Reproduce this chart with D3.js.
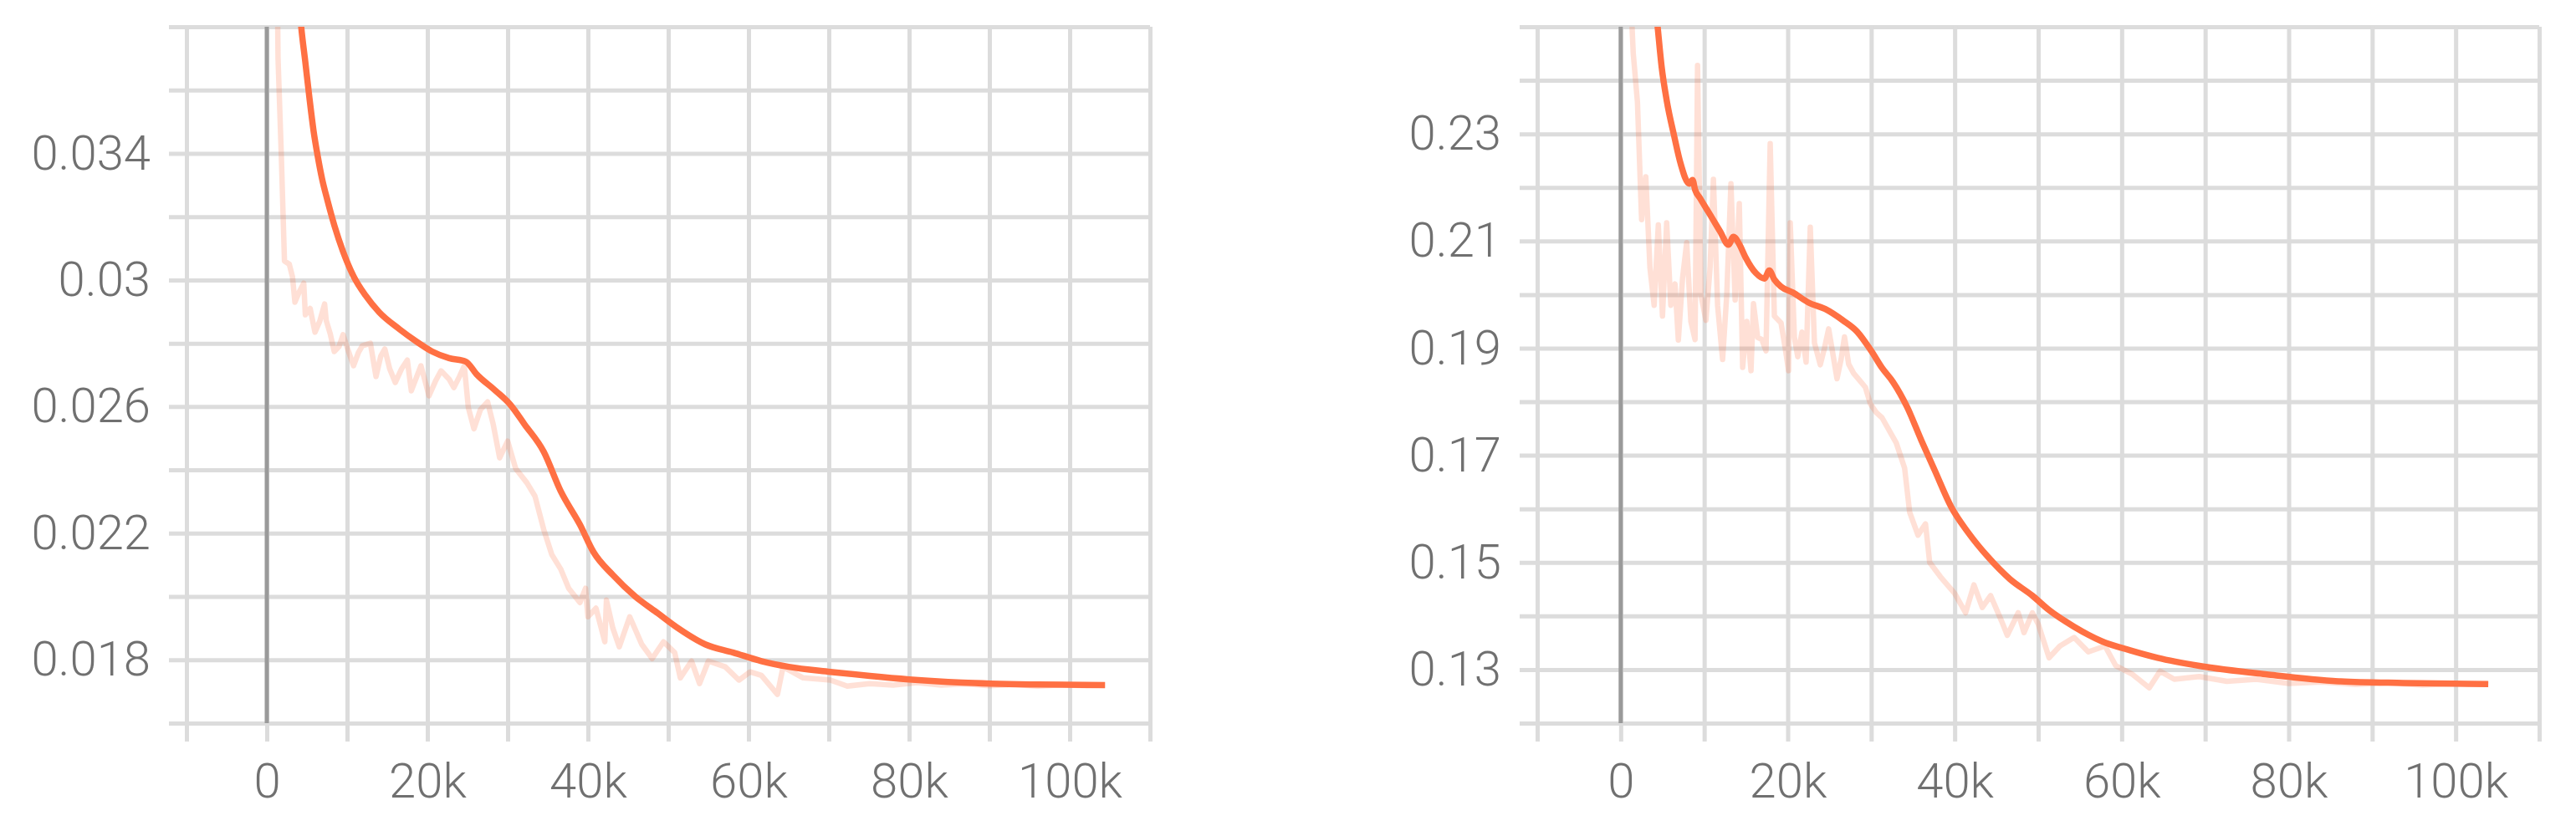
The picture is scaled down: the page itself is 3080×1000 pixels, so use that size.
<!DOCTYPE html>
<html>
<head>
<meta charset="utf-8">
<script src="https://cdnjs.cloudflare.com/ajax/libs/d3/7.8.5/d3.min.js"></script>
<style>
  html, body { margin: 0; background: #fff; }
  svg { display: block; }
  .tick text { font-family: Roboto, "Open Sans", sans-serif; font-weight: 300; font-size: 58px; fill: #707070; }
</style>
</head>
<body>
<div id="chart"></div>
<script>
const width = 3080;
const height = 1000;

// shared x ticks (steps)
const xGrid = [-10000, 0, 10000, 20000, 30000, 40000, 50000, 60000, 70000, 80000, 90000, 100000, 110000];
const xLabels = [0, 20000, 40000, 60000, 80000, 100000];

// left chart
const leftGrid = [0.016, 0.018, 0.02, 0.022, 0.024, 0.026, 0.028, 0.03, 0.032, 0.034, 0.036, 0.038];
const leftLabels = [0.018, 0.022, 0.026, 0.03, 0.034];

const leftRaw = [
  [900, 0.05], [1400, 0.037], [1800, 0.034], [2200, 0.0306], [2800, 0.0305], [3200, 0.0301],
  [3500, 0.0293], [4000, 0.0296], [4600, 0.0299], [4800, 0.0289], [5400, 0.0291], [6000, 0.02835],
  [6600, 0.0287], [7200, 0.02924], [7400, 0.02872], [7900, 0.0283], [8400, 0.02774], [9000, 0.0279],
  [9500, 0.02827], [10100, 0.0278], [10800, 0.02729], [11400, 0.0277], [11900, 0.02792], [12900, 0.028],
  [13600, 0.02695], [14200, 0.0276], [14700, 0.02782], [15300, 0.0272], [16000, 0.02676], [16800, 0.0272],
  [17500, 0.02747], [18000, 0.0265], [18600, 0.0269], [19200, 0.02729], [20200, 0.02634], [21000, 0.0268],
  [21700, 0.02713], [22700, 0.02687], [23300, 0.0266], [24000, 0.02695], [24600, 0.02729], [25100, 0.02597],
  [25800, 0.0253], [26600, 0.0259], [27500, 0.02615], [28200, 0.02544], [29000, 0.02438], [30000, 0.02491],
  [31000, 0.02404], [32400, 0.02359], [33400, 0.02317], [34500, 0.02211], [35500, 0.02132], [36600, 0.02087],
  [37600, 0.02026], [39000, 0.01981], [39700, 0.02026], [40000, 0.01936], [41000, 0.01963], [42100, 0.01857],
  [42300, 0.01989], [43100, 0.019], [43900, 0.01841], [45200, 0.01936], [46700, 0.01849], [48000, 0.01804],
  [49400, 0.01857], [50800, 0.01823], [51500, 0.01743], [52900, 0.01796], [53900, 0.01725], [55000, 0.01796],
  [57100, 0.01778], [58800, 0.01736], [60200, 0.01762], [61600, 0.01751], [63600, 0.01691], [64300, 0.01778],
  [66800, 0.01743], [70200, 0.01736], [72300, 0.01717], [75100, 0.01725], [78000, 0.0172], [81000, 0.01728],
  [84000, 0.0172], [87000, 0.01724], [90000, 0.01718], [93000, 0.01722], [96000, 0.01717], [99000, 0.01721],
  [102000, 0.01718], [104400, 0.0172]
];

const leftSmooth = [
  [3900, 0.0392], [4270, 0.03804], [4790, 0.0369], [5310, 0.03575], [5830, 0.0347], [6350, 0.0339],
  [6880, 0.0332], [7570, 0.0325], [8440, 0.0317], [9480, 0.03091], [10800, 0.03012], [12300, 0.02951],
  [14000, 0.02898], [16500, 0.02845], [18500, 0.02808], [20600, 0.02774], [22700, 0.02753], [24800, 0.02742],
  [26100, 0.02703], [28500, 0.0265], [30300, 0.02607], [32100, 0.02544], [34500, 0.02457], [36600, 0.02333],
  [39000, 0.02227], [40700, 0.0214], [43100, 0.02068], [45900, 0.02], [48700, 0.01947], [51100, 0.01902],
  [54600, 0.01849], [58100, 0.01823], [61600, 0.01796], [65000, 0.01778], [70200, 0.01762], [75100, 0.01749],
  [80000, 0.01738], [86600, 0.01728], [96000, 0.01722], [104400, 0.0172]
];

// right chart
const rightGrid = [0.12, 0.13, 0.14, 0.15, 0.16, 0.17, 0.18, 0.19, 0.2, 0.21, 0.22, 0.23, 0.24, 0.25];
const rightLabels = [0.13, 0.15, 0.17, 0.19, 0.21, 0.23];

const rightRaw = [
  [1000, 0.262], [1500, 0.245], [2000, 0.236], [2500, 0.214], [3000, 0.222], [3500, 0.205],
  [4000, 0.198], [4500, 0.213], [5000, 0.196], [5500, 0.2134], [6000, 0.198], [6500, 0.202],
  [6900, 0.1915], [7400, 0.203], [7900, 0.2097], [8400, 0.195], [8900, 0.1916], [9200, 0.2428],
  [9600, 0.2], [10200, 0.1952], [10700, 0.205], [11100, 0.2215], [11600, 0.198], [12200, 0.1879],
  [12700, 0.2], [13200, 0.2207], [13700, 0.199], [14200, 0.217], [14600, 0.1864], [15100, 0.195],
  [15600, 0.1858], [15900, 0.1983], [16400, 0.192], [16900, 0.1916], [17400, 0.1895], [17900, 0.2282],
  [18400, 0.196], [19200, 0.1947], [19700, 0.19], [20100, 0.1858], [20300, 0.2134], [20800, 0.192],
  [21200, 0.1884], [21700, 0.193], [22200, 0.1874], [22700, 0.2126], [23200, 0.191], [23900, 0.1869],
  [24400, 0.19], [24900, 0.1936], [25400, 0.189], [25900, 0.1843], [26400, 0.188], [26800, 0.1921],
  [27300, 0.187], [27900, 0.1853], [28600, 0.184], [29300, 0.1827], [29900, 0.1796], [30600, 0.178],
  [31300, 0.177], [33000, 0.1723], [34000, 0.1676], [34600, 0.1594], [35600, 0.1551], [36500, 0.1572],
  [37000, 0.15], [38300, 0.1473], [40000, 0.1442], [41300, 0.1406], [42300, 0.1458], [43300, 0.1416],
  [44300, 0.1438], [45600, 0.1391], [46300, 0.1364], [47600, 0.1406], [48300, 0.1369], [49300, 0.1406],
  [50000, 0.1385], [51300, 0.1322], [52600, 0.1344], [54300, 0.136], [56000, 0.1333], [58000, 0.1344],
  [59300, 0.1307], [61300, 0.1291], [63300, 0.1266], [64600, 0.1297], [66300, 0.1282], [69300, 0.1287],
  [72600, 0.1278], [76100, 0.1282], [80000, 0.1274], [84000, 0.1277], [88000, 0.1272], [92000, 0.1275],
  [96000, 0.1271], [100000, 0.1274], [103900, 0.1272]
];

const rightSmooth = [
  [4000, 0.2565], [4400, 0.2503], [4900, 0.2425], [5500, 0.2363], [6400, 0.2296], [7200, 0.2243],
  [8200, 0.2207], [8600, 0.2214], [8900, 0.2196], [9500, 0.218], [10900, 0.2144], [11900, 0.2118],
  [12900, 0.2093], [13500, 0.2108], [14200, 0.2094], [14900, 0.2071], [16200, 0.204], [17200, 0.203],
  [17800, 0.2045], [18400, 0.2028], [19200, 0.2015], [20600, 0.2004], [22500, 0.1985], [24500, 0.1973],
  [26600, 0.1952], [28300, 0.1931], [30000, 0.1895], [31300, 0.1863], [32600, 0.1837], [34300, 0.179],
  [36000, 0.1728], [37600, 0.1672], [39600, 0.1603], [41600, 0.1556], [44000, 0.151], [46600, 0.1469],
  [49300, 0.1438], [51300, 0.1411], [54300, 0.138], [57600, 0.1353], [61000, 0.1336], [64300, 0.1322],
  [69300, 0.1307], [77400, 0.1291], [86200, 0.1278], [93700, 0.1275], [103900, 0.1273]
];

const orange = "#ff7043";
const gridColor = "#dcdcdc";

const svg = d3.select("#chart")
  .append("svg")
  .attr("width", width)
  .attr("height", height)
  .attr("viewBox", `0 0 ${width} ${height}`);

const panels = [
  { id: "a", x0: 223, x1: 1375, yDomain: [0.016, 0.038], grid: leftGrid, labels: leftLabels, raw: leftRaw, smooth: leftSmooth },
  { id: "b", x0: 1838, x1: 3036, yDomain: [0.12, 0.25], grid: rightGrid, labels: rightLabels, raw: rightRaw, smooth: rightSmooth },
];

const plotTop = 32;
const plotBottom = 865;
const fmtY = d3.format("~r");
const fmtX = d3.format("~s");

panels.forEach((p) => {
  const x = d3.scaleLinear().domain([-10000, 110000]).range([p.x0, p.x1]);
  const y = d3.scaleLinear().domain(p.yDomain).range([plotBottom, plotTop]);
  const w = p.x1 - p.x0;
  const h = plotBottom - plotTop;

  svg.append("clipPath")
    .attr("id", `clip-${p.id}`)
    .append("rect")
    .attr("x", p.x0).attr("y", plotTop)
    .attr("width", w).attr("height", h);

  // horizontal grid + left ticks + labels
  const yAxis = svg.append("g")
    .attr("transform", `translate(${p.x0 - 21},0)`)
    .call(
      d3.axisLeft(y)
        .tickValues(p.grid)
        .tickSize(-(w + 21))
        .tickPadding(22)
        .tickFormat((d) => (p.labels.some((l) => Math.abs(l - d) < 1e-9) ? fmtY(d) : ""))
    );

  // vertical grid + bottom ticks + labels
  const xAxis = svg.append("g")
    .attr("transform", `translate(0,${plotBottom + 22})`)
    .call(
      d3.axisBottom(x)
        .tickValues(xGrid)
        .tickSize(-(h + 22))
        .tickPadding(26)
        .tickFormat((d) => (xLabels.includes(d) ? fmtX(d) : ""))
    );

  [yAxis, xAxis].forEach((g) => {
    g.select(".domain").remove();
    g.selectAll(".tick line").attr("stroke", gridColor).attr("stroke-width", 5);
  });

  // zero line
  svg.append("line")
    .attr("x1", x(0)).attr("x2", x(0))
    .attr("y1", plotTop).attr("y2", plotBottom)
    .attr("stroke", "#9a9a9a")
    .attr("stroke-width", 5);

  const plot = svg.append("g").attr("clip-path", `url(#clip-${p.id})`);

  plot.append("path")
    .datum(p.raw)
    .attr("fill", "none")
    .attr("stroke", orange)
    .attr("stroke-opacity", 0.22)
    .attr("stroke-width", 6.5)
    .attr("stroke-linejoin", "round")
    .attr("d", d3.line().x((d) => x(d[0])).y((d) => y(d[1])));

  plot.append("path")
    .datum(p.smooth)
    .attr("fill", "none")
    .attr("stroke", orange)
    .attr("stroke-width", 7.5)
    .attr("stroke-linejoin", "round")
    .attr("d", d3.line().curve(d3.curveMonotoneX).x((d) => x(d[0])).y((d) => y(d[1])));
});
</script>
</body>
</html>
